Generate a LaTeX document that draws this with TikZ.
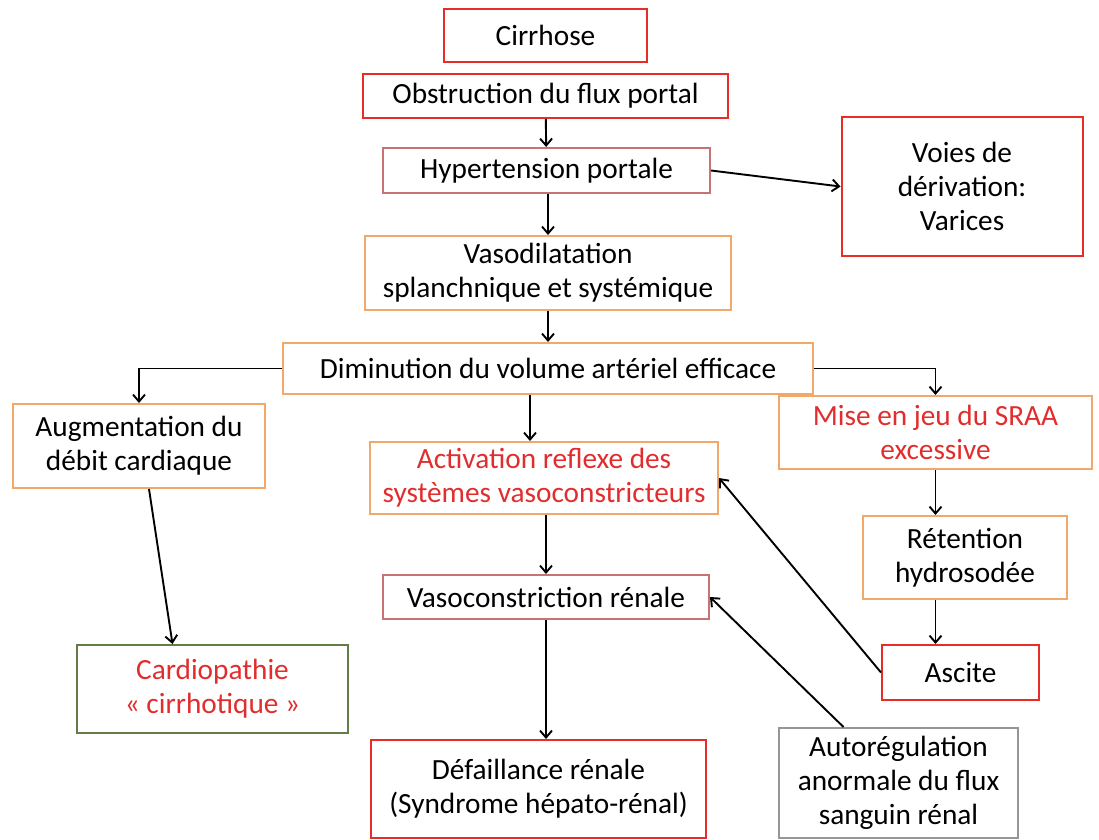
\documentclass[tikz,border=0pt]{standalone}
\usepackage{fontspec}
\setmainfont{Carlito}
\usetikzlibrary{arrows.meta}
\definecolor{boxred}{RGB}{232,45,40}
\definecolor{boxorange}{RGB}{242,168,104}
\definecolor{boxpink}{RGB}{200,115,115}
\definecolor{boxgreen}{RGB}{100,125,70}
\definecolor{boxgray}{RGB}{150,150,150}
\definecolor{txtred}{RGB}{225,45,45}
\begin{document}
\begin{tikzpicture}[x=1pt, y=-1pt, >={Straight Barb[length=7pt,width=12pt]},
  every node/.style={draw, line width=2pt, align=center, inner sep=0pt, font=\fontsize{29.3}{34}\selectfont},
  redbox/.style={draw=boxred}, orangebox/.style={draw=boxorange}, pinkbox/.style={draw=boxpink},
  greenbox/.style={draw=boxgreen}, graybox/.style={draw=boxgray},
  link/.style={->, line width=1.9pt}]
  \useasboundingbox (0,0) rectangle (1099,839);
  \node[redbox, minimum width=203pt, minimum height=53pt] (cirrhose) at (545.5,35.5) {Cirrhose};
  \node[redbox, minimum width=365pt, minimum height=44pt] (obstruction) at (545.5,96) {Obstruction du flux portal};
  \node[pinkbox, minimum width=327pt, minimum height=45pt] (hypertension) at (546.5,170.5) {Hypertension portale};
  \node[redbox, minimum width=241pt, minimum height=139pt] (voies) at (962,186.5) {Voies de\\dérivation:\\Varices};
  \node[orangebox, minimum width=366pt, minimum height=74pt] (vasodil) at (548,273) {Vasodilatation\\splanchnique et systémique};
  \node[orangebox, minimum width=530pt, minimum height=51pt] (diminution) at (548,368.5) {Diminution du volume artériel efficace};
  \node[orangebox, minimum width=252pt, minimum height=84pt] (augment) at (139,446) {Augmentation du\\débit cardiaque};
  \node[orangebox, minimum width=348pt, minimum height=72pt, text=txtred] (activation) at (544,478) {Activation reflexe des\\systèmes vasoconstricteurs};
  \node[orangebox, minimum width=313pt, minimum height=73pt, text=txtred] (mise) at (935.5,432.5) {Mise en jeu du SRAA\\excessive};
  \node[orangebox, minimum width=204pt, minimum height=83pt] (retention) at (965,557.5) {Rétention\\hydrosodée};
  \node[pinkbox, minimum width=326pt, minimum height=44pt] (vasoconstr) at (546,597) {Vasoconstriction rénale};
  \node[redbox, minimum width=157pt, minimum height=55pt] (ascite) at (960.5,672.5) {Ascite};
  \node[greenbox, minimum width=271pt, minimum height=88pt, text=txtred] (cardio) at (212.5,689) {Cardiopathie\\« cirrhotique »};
  \node[redbox, minimum width=335pt, minimum height=98pt] (defaill) at (538.5,789) {Défaillance rénale\\(Syndrome hépato-rénal)};
  \node[graybox, minimum width=239pt, minimum height=110pt] (autoreg) at (898.5,783) {Autorégulation\\anormale du flux\\sanguin rénal};
  \draw[link] (obstruction) -- (hypertension);
  \draw[link] (hypertension.east) -- (voies.west);
  \draw[link] (vasodil.north |- hypertension.south) -- (vasodil);
  \draw[link] (vasodil) -- (vasodil |- diminution.north);
  \draw[link] (diminution.west) -| (augment);
  \draw[link] (diminution.east) -| (mise);
  \draw[link] ([xshift=-14pt]activation.north |- diminution.south) -- ([xshift=-14pt]activation.north);
  \draw[link] (activation.south -| vasoconstr) -- (vasoconstr);
  \draw[link] (vasoconstr) -- (vasoconstr |- defaill.north);
  \draw[link] ([xshift=10pt]augment.south) -- ([xshift=-40pt]cardio.north);
  \draw[link] (mise) -- (mise |- retention.north);
  \draw[link] (mise |- retention.south) -- (mise |- ascite.north);
  \draw[link] (ascite.west) -- (activation.east);
  \draw[link] ([xshift=-55pt]autoreg.north) -- (vasoconstr.east);
\end{tikzpicture}
\end{document}
